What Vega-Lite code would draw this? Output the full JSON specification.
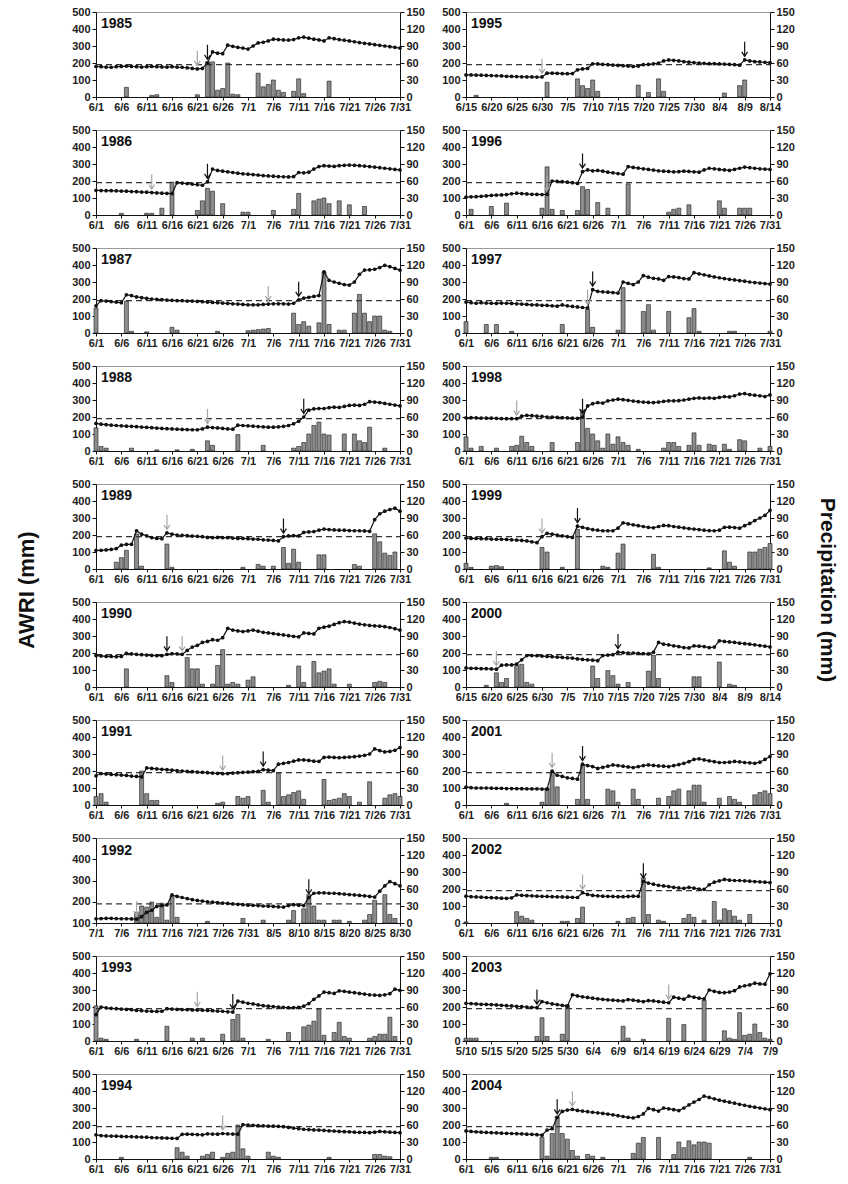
{
"$schema":"https://vega.github.io/schema/vega-lite/v6.json",
"padding":{"left":16,"top":5,"right":2,"bottom":0},
"title":{"text":"AWRI (mm)","orient":"left","anchor":"middle","fontSize":22,"fontWeight":"bold","font":"Liberation Sans","color":"#111","offset":32},
"datasets":{
"y1985":[{"d":0,"a":180},{"d":1,"a":178},{"d":2,"a":176},{"d":3,"a":175},{"d":4,"a":178},{"d":5,"a":180},{"d":6,"a":182,"r":17},{"d":7,"a":180},{"d":8,"a":178},{"d":9,"a":176},{"d":10,"a":178},{"d":11,"a":180,"r":3},{"d":12,"a":178,"r":4},{"d":13,"a":177},{"d":14,"a":176},{"d":15,"a":178},{"d":16,"a":176},{"d":17,"a":175},{"d":18,"a":172},{"d":19,"a":168},{"d":20,"a":165,"r":4,"w":"g"},{"d":21,"a":168},{"d":22,"a":200,"r":62,"w":"b"},{"d":23,"a":265,"r":62},{"d":24,"a":258,"r":12},{"d":25,"a":255,"r":15},{"d":26,"a":305,"r":60},{"d":27,"a":298,"r":5},{"d":28,"a":292,"r":4},{"d":29,"a":288},{"d":30,"a":282},{"d":31,"a":300},{"d":32,"a":318,"r":42},{"d":33,"a":322,"r":18},{"d":34,"a":330,"r":22},{"d":35,"a":340,"r":30},{"d":36,"a":338,"r":12},{"d":37,"a":336,"r":8},{"d":38,"a":335},{"d":39,"a":338,"r":10},{"d":40,"a":348,"r":32},{"d":41,"a":352,"r":6},{"d":42,"a":346},{"d":43,"a":340},{"d":44,"a":336},{"d":45,"a":330},{"d":46,"a":348,"r":28},{"d":47,"a":343},{"d":48,"a":338},{"d":49,"a":334},{"d":50,"a":330},{"d":51,"a":325},{"d":52,"a":320},{"d":53,"a":316},{"d":54,"a":312},{"d":55,"a":308},{"d":56,"a":304},{"d":57,"a":300},{"d":58,"a":296},{"d":59,"a":292},{"d":60,"a":288}],
"y1995":[{"d":0,"a":130},{"d":1,"a":130},{"d":2,"a":129,"r":3},{"d":3,"a":128},{"d":4,"a":127},{"d":5,"a":126},{"d":6,"a":125},{"d":7,"a":124},{"d":8,"a":122},{"d":9,"a":121},{"d":10,"a":120},{"d":11,"a":119},{"d":12,"a":118},{"d":13,"a":118},{"d":14,"a":117},{"d":15,"a":118,"w":"g"},{"d":16,"a":140,"r":26},{"d":17,"a":140},{"d":18,"a":139},{"d":19,"a":138},{"d":20,"a":137},{"d":21,"a":138},{"d":22,"a":160,"r":32},{"d":23,"a":165,"r":20},{"d":24,"a":168,"r":15},{"d":25,"a":195,"r":30},{"d":26,"a":195,"r":10},{"d":27,"a":192},{"d":28,"a":190},{"d":29,"a":188},{"d":30,"a":186},{"d":31,"a":184},{"d":32,"a":182},{"d":33,"a":180},{"d":34,"a":182,"r":21},{"d":35,"a":190},{"d":36,"a":192,"r":8},{"d":37,"a":195},{"d":38,"a":200,"r":32},{"d":39,"a":212,"r":10},{"d":40,"a":218},{"d":41,"a":216},{"d":42,"a":212},{"d":43,"a":208},{"d":44,"a":205},{"d":45,"a":202},{"d":46,"a":200},{"d":47,"a":198},{"d":48,"a":197},{"d":49,"a":196},{"d":50,"a":195},{"d":51,"a":194,"r":7},{"d":52,"a":192},{"d":53,"a":190},{"d":54,"a":187,"r":20},{"d":55,"a":218,"r":30,"w":"b"},{"d":56,"a":212},{"d":57,"a":208},{"d":58,"a":206},{"d":59,"a":204},{"d":60,"a":202}],
"y1986":[{"d":0,"a":145},{"d":1,"a":144},{"d":2,"a":143},{"d":3,"a":143},{"d":4,"a":142},{"d":5,"a":141,"r":3},{"d":6,"a":140},{"d":7,"a":138},{"d":8,"a":137},{"d":9,"a":135},{"d":10,"a":134,"r":3},{"d":11,"a":132,"r":3,"w":"g"},{"d":12,"a":130},{"d":13,"a":128,"r":12},{"d":14,"a":127},{"d":15,"a":126,"r":58},{"d":16,"a":190},{"d":17,"a":188},{"d":18,"a":185},{"d":19,"a":182},{"d":20,"a":178,"r":8},{"d":21,"a":175,"r":25},{"d":22,"a":195,"r":47,"w":"b"},{"d":23,"a":270,"r":42},{"d":24,"a":262},{"d":25,"a":258,"r":20},{"d":26,"a":254},{"d":27,"a":250},{"d":28,"a":246},{"d":29,"a":242,"r":5},{"d":30,"a":240,"r":5},{"d":31,"a":238},{"d":32,"a":235},{"d":33,"a":232},{"d":34,"a":230},{"d":35,"a":228,"r":8},{"d":36,"a":226},{"d":37,"a":225},{"d":38,"a":224},{"d":39,"a":226,"r":10},{"d":40,"a":250,"r":38},{"d":41,"a":248},{"d":42,"a":252},{"d":43,"a":270,"r":25},{"d":44,"a":285,"r":28},{"d":45,"a":290,"r":30},{"d":46,"a":288,"r":20},{"d":47,"a":286},{"d":48,"a":290,"r":25},{"d":49,"a":292},{"d":50,"a":294,"r":18},{"d":51,"a":292},{"d":52,"a":290},{"d":53,"a":288,"r":15},{"d":54,"a":285},{"d":55,"a":282},{"d":56,"a":278},{"d":57,"a":275},{"d":58,"a":272},{"d":59,"a":268},{"d":60,"a":265}],
"y1996":[{"d":0,"a":105},{"d":1,"a":107,"r":10},{"d":2,"a":108},{"d":3,"a":110},{"d":4,"a":112},{"d":5,"a":115,"r":15},{"d":6,"a":117},{"d":7,"a":118},{"d":8,"a":120,"r":21},{"d":9,"a":125},{"d":10,"a":128},{"d":11,"a":126},{"d":12,"a":124},{"d":13,"a":122},{"d":14,"a":121},{"d":15,"a":120,"r":12},{"d":16,"a":122,"r":85,"w":"g"},{"d":17,"a":200,"r":10},{"d":18,"a":198},{"d":19,"a":196,"r":8},{"d":20,"a":193},{"d":21,"a":190},{"d":22,"a":186,"r":8},{"d":23,"a":255,"r":50,"w":"b"},{"d":24,"a":265,"r":45},{"d":25,"a":260},{"d":26,"a":262,"r":22},{"d":27,"a":258},{"d":28,"a":252,"r":12},{"d":29,"a":248},{"d":30,"a":244},{"d":31,"a":240},{"d":32,"a":285,"r":55},{"d":33,"a":280},{"d":34,"a":276},{"d":35,"a":272},{"d":36,"a":268},{"d":37,"a":264},{"d":38,"a":260},{"d":39,"a":258},{"d":40,"a":256,"r":5},{"d":41,"a":254,"r":10},{"d":42,"a":255,"r":12},{"d":43,"a":258},{"d":44,"a":256,"r":18},{"d":45,"a":254},{"d":46,"a":252},{"d":47,"a":265},{"d":48,"a":275},{"d":49,"a":272},{"d":50,"a":268,"r":25},{"d":51,"a":265,"r":12},{"d":52,"a":262},{"d":53,"a":268},{"d":54,"a":275,"r":12},{"d":55,"a":282,"r":12},{"d":56,"a":278,"r":12},{"d":57,"a":275},{"d":58,"a":272},{"d":59,"a":270},{"d":60,"a":268}],
"y1987":[{"d":0,"a":160,"r":44},{"d":1,"a":190},{"d":2,"a":188},{"d":3,"a":185},{"d":4,"a":182},{"d":5,"a":178},{"d":6,"a":225,"r":56},{"d":7,"a":220,"r":3},{"d":8,"a":212},{"d":9,"a":208},{"d":10,"a":204,"r":2},{"d":11,"a":200},{"d":12,"a":198},{"d":13,"a":196},{"d":14,"a":194},{"d":15,"a":192,"r":10},{"d":16,"a":190,"r":5},{"d":17,"a":190},{"d":18,"a":188},{"d":19,"a":188},{"d":20,"a":186},{"d":21,"a":184},{"d":22,"a":182},{"d":23,"a":180},{"d":24,"a":178,"r":3},{"d":25,"a":176},{"d":26,"a":174},{"d":27,"a":172},{"d":28,"a":170},{"d":29,"a":168},{"d":30,"a":166,"r":4},{"d":31,"a":166,"r":5},{"d":32,"a":166,"r":6},{"d":33,"a":168,"r":7},{"d":34,"a":170,"r":8,"w":"g"},{"d":35,"a":172},{"d":36,"a":172},{"d":37,"a":172},{"d":38,"a":170},{"d":39,"a":175,"r":35},{"d":40,"a":195,"r":15,"w":"b"},{"d":41,"a":205,"r":20},{"d":42,"a":210,"r":12},{"d":43,"a":215},{"d":44,"a":220,"r":18},{"d":45,"a":360,"r":108},{"d":46,"a":310,"r":15},{"d":47,"a":300},{"d":48,"a":292,"r":5},{"d":49,"a":285,"r":5},{"d":50,"a":282},{"d":51,"a":300,"r":35},{"d":52,"a":345,"r":68},{"d":53,"a":370,"r":35},{"d":54,"a":372,"r":20},{"d":55,"a":375,"r":30},{"d":56,"a":385,"r":30},{"d":57,"a":398,"r":5},{"d":58,"a":390,"r":3},{"d":59,"a":380},{"d":60,"a":370}],
"y1997":[{"d":0,"a":182,"r":20},{"d":1,"a":178},{"d":2,"a":175},{"d":3,"a":178},{"d":4,"a":176,"r":15},{"d":5,"a":175},{"d":6,"a":174,"r":15},{"d":7,"a":176},{"d":8,"a":175},{"d":9,"a":174,"r":3},{"d":10,"a":172},{"d":11,"a":170},{"d":12,"a":168},{"d":13,"a":166},{"d":14,"a":165},{"d":15,"a":163},{"d":16,"a":162},{"d":17,"a":160},{"d":18,"a":158},{"d":19,"a":165,"r":15},{"d":20,"a":160},{"d":21,"a":156},{"d":22,"a":153},{"d":23,"a":150},{"d":24,"a":148,"r":42,"w":"g"},{"d":25,"a":255,"r":10,"w":"b"},{"d":26,"a":245},{"d":27,"a":242},{"d":28,"a":240},{"d":29,"a":238},{"d":30,"a":235,"r":5},{"d":31,"a":300,"r":80},{"d":32,"a":292},{"d":33,"a":285},{"d":34,"a":300},{"d":35,"a":338,"r":38},{"d":36,"a":328,"r":50},{"d":37,"a":322,"r":5},{"d":38,"a":318},{"d":39,"a":310},{"d":40,"a":332,"r":38},{"d":41,"a":330},{"d":42,"a":326},{"d":43,"a":320},{"d":44,"a":318,"r":27},{"d":45,"a":355,"r":43},{"d":46,"a":348,"r":3},{"d":47,"a":342},{"d":48,"a":336},{"d":49,"a":330},{"d":50,"a":325},{"d":51,"a":320},{"d":52,"a":316,"r":3},{"d":53,"a":312,"r":3},{"d":54,"a":308},{"d":55,"a":305},{"d":56,"a":300},{"d":57,"a":297},{"d":58,"a":294},{"d":59,"a":291},{"d":60,"a":288,"r":3}],
"y1988":[{"d":0,"a":162,"r":41},{"d":1,"a":158,"r":8},{"d":2,"a":155,"r":5},{"d":3,"a":152},{"d":4,"a":150},{"d":5,"a":148},{"d":6,"a":146},{"d":7,"a":145,"r":5},{"d":8,"a":143},{"d":9,"a":141},{"d":10,"a":139},{"d":11,"a":137},{"d":12,"a":135,"r":2},{"d":13,"a":133},{"d":14,"a":131},{"d":15,"a":130},{"d":16,"a":128,"r":2},{"d":17,"a":127},{"d":18,"a":126},{"d":19,"a":125,"r":3},{"d":20,"a":125},{"d":21,"a":130},{"d":22,"a":140,"r":18,"w":"g"},{"d":23,"a":138,"r":10},{"d":24,"a":136},{"d":25,"a":133},{"d":26,"a":130},{"d":27,"a":128},{"d":28,"a":152,"r":29},{"d":29,"a":150},{"d":30,"a":148},{"d":31,"a":146},{"d":32,"a":144},{"d":33,"a":142,"r":10},{"d":34,"a":140},{"d":35,"a":140},{"d":36,"a":142},{"d":37,"a":145},{"d":38,"a":150},{"d":39,"a":160,"r":5},{"d":40,"a":175,"r":8},{"d":41,"a":200,"r":15,"w":"b"},{"d":42,"a":240,"r":30},{"d":43,"a":248,"r":45},{"d":44,"a":250,"r":51},{"d":45,"a":250,"r":30},{"d":46,"a":255,"r":28},{"d":47,"a":258},{"d":48,"a":256},{"d":49,"a":262,"r":30},{"d":50,"a":268},{"d":51,"a":270,"r":30},{"d":52,"a":268,"r":18},{"d":53,"a":275,"r":15},{"d":54,"a":290,"r":42},{"d":55,"a":288},{"d":56,"a":285},{"d":57,"a":280,"r":5},{"d":58,"a":275},{"d":59,"a":270},{"d":60,"a":265}],
"y1998":[{"d":0,"a":195,"r":25},{"d":1,"a":196,"r":5},{"d":2,"a":195},{"d":3,"a":194,"r":8},{"d":4,"a":193},{"d":5,"a":193},{"d":6,"a":192,"r":5},{"d":7,"a":191},{"d":8,"a":190},{"d":9,"a":190,"r":8},{"d":10,"a":190,"r":10,"w":"g"},{"d":11,"a":205,"r":26},{"d":12,"a":210,"r":15},{"d":13,"a":208,"r":8},{"d":14,"a":205},{"d":15,"a":203},{"d":16,"a":200},{"d":17,"a":199,"r":15},{"d":18,"a":198},{"d":19,"a":196},{"d":20,"a":195},{"d":21,"a":193},{"d":22,"a":192,"r":15},{"d":23,"a":200,"r":72,"w":"b"},{"d":24,"a":265,"r":40},{"d":25,"a":278,"r":30},{"d":26,"a":285,"r":18},{"d":27,"a":282,"r":5},{"d":28,"a":295,"r":30},{"d":29,"a":300,"r":12},{"d":30,"a":305,"r":25},{"d":31,"a":302,"r":15},{"d":32,"a":298,"r":10},{"d":33,"a":294},{"d":34,"a":290,"r":3},{"d":35,"a":288},{"d":36,"a":286},{"d":37,"a":285},{"d":38,"a":288},{"d":39,"a":292,"r":5},{"d":40,"a":295,"r":15},{"d":41,"a":295,"r":15},{"d":42,"a":296,"r":8},{"d":43,"a":300},{"d":44,"a":305,"r":10},{"d":45,"a":310,"r":32},{"d":46,"a":312,"r":10},{"d":47,"a":310},{"d":48,"a":312,"r":12},{"d":49,"a":310,"r":10},{"d":50,"a":315},{"d":51,"a":320,"r":12},{"d":52,"a":318,"r":3},{"d":53,"a":325},{"d":54,"a":335,"r":20},{"d":55,"a":338,"r":18},{"d":56,"a":332},{"d":57,"a":328},{"d":58,"a":325,"r":5},{"d":59,"a":320},{"d":60,"a":330,"r":8}],
"y1989":[{"d":0,"a":110},{"d":1,"a":110},{"d":2,"a":112},{"d":3,"a":115},{"d":4,"a":120,"r":12},{"d":5,"a":140,"r":20},{"d":6,"a":145,"r":33},{"d":7,"a":145},{"d":8,"a":225,"r":62},{"d":9,"a":205,"r":5},{"d":10,"a":195},{"d":11,"a":185},{"d":12,"a":180},{"d":13,"a":178},{"d":14,"a":212,"r":44,"w":"g"},{"d":15,"a":205,"r":3},{"d":16,"a":200},{"d":17,"a":198},{"d":18,"a":196},{"d":19,"a":194},{"d":20,"a":192},{"d":21,"a":190},{"d":22,"a":186},{"d":23,"a":184},{"d":24,"a":186},{"d":25,"a":185},{"d":26,"a":184},{"d":27,"a":182},{"d":28,"a":180},{"d":29,"a":180,"r":3},{"d":30,"a":178},{"d":31,"a":176},{"d":32,"a":175,"r":8},{"d":33,"a":172,"r":5},{"d":34,"a":170},{"d":35,"a":168,"r":5},{"d":36,"a":165},{"d":37,"a":190,"r":38,"w":"b"},{"d":38,"a":195,"r":10},{"d":39,"a":196,"r":35},{"d":40,"a":195,"r":12},{"d":41,"a":215},{"d":42,"a":218},{"d":43,"a":220},{"d":44,"a":228,"r":25},{"d":45,"a":235,"r":25},{"d":46,"a":232},{"d":47,"a":230},{"d":48,"a":228},{"d":49,"a":228},{"d":50,"a":226},{"d":51,"a":225,"r":8},{"d":52,"a":225,"r":5},{"d":53,"a":224},{"d":54,"a":222},{"d":55,"a":290,"r":62},{"d":56,"a":325,"r":48},{"d":57,"a":340,"r":28},{"d":58,"a":350,"r":24},{"d":59,"a":358,"r":30},{"d":60,"a":340}],
"y1999":[{"d":0,"a":182,"r":10},{"d":1,"a":180,"r":3},{"d":2,"a":180},{"d":3,"a":178},{"d":4,"a":178},{"d":5,"a":176,"r":5},{"d":6,"a":175,"r":6},{"d":7,"a":175,"r":4},{"d":8,"a":174},{"d":9,"a":172},{"d":10,"a":170},{"d":11,"a":168},{"d":12,"a":165},{"d":13,"a":160},{"d":14,"a":155},{"d":15,"a":190,"r":38,"w":"g"},{"d":16,"a":210,"r":30},{"d":17,"a":205},{"d":18,"a":200},{"d":19,"a":195,"r":3},{"d":20,"a":190},{"d":21,"a":186},{"d":22,"a":252,"r":70,"w":"b"},{"d":23,"a":245},{"d":24,"a":238},{"d":25,"a":232},{"d":26,"a":228},{"d":27,"a":225,"r":5},{"d":28,"a":225,"r":3},{"d":29,"a":225},{"d":30,"a":240,"r":28},{"d":31,"a":272,"r":44},{"d":32,"a":265},{"d":33,"a":260},{"d":34,"a":255},{"d":35,"a":250},{"d":36,"a":245},{"d":37,"a":242,"r":26},{"d":38,"a":250,"r":3},{"d":39,"a":256},{"d":40,"a":255},{"d":41,"a":250},{"d":42,"a":246},{"d":43,"a":242},{"d":44,"a":238},{"d":45,"a":235},{"d":46,"a":232},{"d":47,"a":228},{"d":48,"a":226,"r":2},{"d":49,"a":225},{"d":50,"a":228},{"d":51,"a":245,"r":32},{"d":52,"a":246,"r":12},{"d":53,"a":244,"r":5},{"d":54,"a":240},{"d":55,"a":255},{"d":56,"a":268,"r":30},{"d":57,"a":285,"r":30},{"d":58,"a":300,"r":35},{"d":59,"a":315,"r":38},{"d":60,"a":345,"r":45}],
"y1990":[{"d":0,"a":185},{"d":1,"a":183},{"d":2,"a":180},{"d":3,"a":180},{"d":4,"a":178},{"d":5,"a":180},{"d":6,"a":198,"r":32},{"d":7,"a":195},{"d":8,"a":192},{"d":9,"a":190},{"d":10,"a":188},{"d":11,"a":186},{"d":12,"a":184},{"d":13,"a":184},{"d":14,"a":192,"r":20,"w":"b"},{"d":15,"a":196,"r":8},{"d":16,"a":195},{"d":17,"a":192,"w":"g"},{"d":18,"a":215,"r":52},{"d":19,"a":235,"r":32},{"d":20,"a":245,"r":32},{"d":21,"a":262,"r":5},{"d":22,"a":268},{"d":23,"a":278,"r":5},{"d":24,"a":275,"r":38},{"d":25,"a":290,"r":66},{"d":26,"a":345,"r":5},{"d":27,"a":335,"r":8},{"d":28,"a":330,"r":5},{"d":29,"a":326},{"d":30,"a":330,"r":12},{"d":31,"a":335,"r":18},{"d":32,"a":328},{"d":33,"a":322},{"d":34,"a":318},{"d":35,"a":314},{"d":36,"a":310},{"d":37,"a":306},{"d":38,"a":302,"r":3},{"d":39,"a":298},{"d":40,"a":295,"r":37},{"d":41,"a":318,"r":8},{"d":42,"a":315},{"d":43,"a":312,"r":45},{"d":44,"a":345,"r":25},{"d":45,"a":352,"r":28},{"d":46,"a":358,"r":32},{"d":47,"a":368,"r":5},{"d":48,"a":378},{"d":49,"a":385},{"d":50,"a":382,"r":5},{"d":51,"a":376},{"d":52,"a":370},{"d":53,"a":366},{"d":54,"a":362},{"d":55,"a":360,"r":8},{"d":56,"a":358,"r":10},{"d":57,"a":355,"r":8},{"d":58,"a":350},{"d":59,"a":343},{"d":60,"a":335}],
"y2000":[{"d":0,"a":112},{"d":1,"a":110},{"d":2,"a":110},{"d":3,"a":108},{"d":4,"a":108,"r":3},{"d":5,"a":106},{"d":6,"a":105,"r":25,"w":"g"},{"d":7,"a":128,"r":8},{"d":8,"a":130,"r":15},{"d":9,"a":130},{"d":10,"a":135,"r":38},{"d":11,"a":160,"r":40},{"d":12,"a":185,"r":8},{"d":13,"a":185,"r":5},{"d":14,"a":184},{"d":15,"a":182},{"d":16,"a":180},{"d":17,"a":178},{"d":18,"a":176},{"d":19,"a":174},{"d":20,"a":172},{"d":21,"a":170},{"d":22,"a":165},{"d":23,"a":162},{"d":24,"a":160},{"d":25,"a":158,"r":37},{"d":26,"a":155,"r":15},{"d":27,"a":185},{"d":28,"a":188,"r":29},{"d":29,"a":190,"r":20},{"d":30,"a":205,"r":5,"w":"b"},{"d":31,"a":202},{"d":32,"a":200,"r":8},{"d":33,"a":200},{"d":34,"a":198},{"d":35,"a":196},{"d":36,"a":195,"r":28},{"d":37,"a":205,"r":56},{"d":38,"a":262,"r":15},{"d":39,"a":252},{"d":40,"a":248},{"d":41,"a":242},{"d":42,"a":238},{"d":43,"a":232},{"d":44,"a":230},{"d":45,"a":242,"r":18},{"d":46,"a":240,"r":18},{"d":47,"a":238},{"d":48,"a":232},{"d":49,"a":235},{"d":50,"a":272,"r":44},{"d":51,"a":268},{"d":52,"a":265,"r":5},{"d":53,"a":262,"r":3},{"d":54,"a":258},{"d":55,"a":255},{"d":56,"a":252},{"d":57,"a":248},{"d":58,"a":244},{"d":59,"a":240},{"d":60,"a":236}],
"y1991":[{"d":0,"a":172,"r":15},{"d":1,"a":185,"r":20},{"d":2,"a":183,"r":5},{"d":3,"a":180},{"d":4,"a":178},{"d":5,"a":176},{"d":6,"a":174},{"d":7,"a":170},{"d":8,"a":168},{"d":9,"a":165,"r":60},{"d":10,"a":218,"r":20},{"d":11,"a":215,"r":8},{"d":12,"a":212,"r":8},{"d":13,"a":210},{"d":14,"a":208},{"d":15,"a":205},{"d":16,"a":202},{"d":17,"a":200},{"d":18,"a":198},{"d":19,"a":196},{"d":20,"a":194},{"d":21,"a":192},{"d":22,"a":190},{"d":23,"a":188},{"d":24,"a":186,"r":3},{"d":25,"a":184,"r":5,"w":"g"},{"d":26,"a":185},{"d":27,"a":188},{"d":28,"a":190,"r":15},{"d":29,"a":192,"r":12},{"d":30,"a":194,"r":15},{"d":31,"a":196},{"d":32,"a":198},{"d":33,"a":208,"r":26,"w":"b"},{"d":34,"a":205,"r":5},{"d":35,"a":202},{"d":36,"a":240,"r":56},{"d":37,"a":245,"r":15},{"d":38,"a":250,"r":18},{"d":39,"a":258,"r":22},{"d":40,"a":265,"r":25},{"d":41,"a":265,"r":10},{"d":42,"a":262},{"d":43,"a":258},{"d":44,"a":256},{"d":45,"a":280,"r":45},{"d":46,"a":282,"r":8},{"d":47,"a":280,"r":10},{"d":48,"a":278,"r":12},{"d":49,"a":280,"r":20},{"d":50,"a":282,"r":15},{"d":51,"a":284},{"d":52,"a":288,"r":5},{"d":53,"a":292},{"d":54,"a":300,"r":41},{"d":55,"a":330},{"d":56,"a":320},{"d":57,"a":312,"r":12},{"d":58,"a":315,"r":18},{"d":59,"a":322,"r":20},{"d":60,"a":338,"r":15}],
"y2001":[{"d":0,"a":105},{"d":1,"a":102},{"d":2,"a":100},{"d":3,"a":100},{"d":4,"a":100},{"d":5,"a":99},{"d":6,"a":98},{"d":7,"a":98},{"d":8,"a":97,"r":3},{"d":9,"a":97},{"d":10,"a":96},{"d":11,"a":96},{"d":12,"a":95},{"d":13,"a":95},{"d":14,"a":95},{"d":15,"a":94,"r":5},{"d":16,"a":93,"r":30},{"d":17,"a":200,"r":59,"w":"g"},{"d":18,"a":175,"r":32},{"d":19,"a":168},{"d":20,"a":160},{"d":21,"a":156},{"d":22,"a":152,"r":10},{"d":23,"a":240,"r":70,"w":"b"},{"d":24,"a":232,"r":10},{"d":25,"a":226},{"d":26,"a":215},{"d":27,"a":222},{"d":28,"a":228,"r":28},{"d":29,"a":236,"r":25},{"d":30,"a":232,"r":5},{"d":31,"a":228},{"d":32,"a":224},{"d":33,"a":220,"r":28},{"d":34,"a":226,"r":10},{"d":35,"a":232},{"d":36,"a":236},{"d":37,"a":233},{"d":38,"a":230,"r":12},{"d":39,"a":228},{"d":40,"a":226,"r":15},{"d":41,"a":232,"r":25},{"d":42,"a":238,"r":28},{"d":43,"a":245},{"d":44,"a":255,"r":25},{"d":45,"a":268,"r":35},{"d":46,"a":272,"r":35},{"d":47,"a":265,"r":5},{"d":48,"a":260},{"d":49,"a":255},{"d":50,"a":250,"r":12},{"d":51,"a":250},{"d":52,"a":252,"r":15},{"d":53,"a":256,"r":10},{"d":54,"a":254,"r":5},{"d":55,"a":250},{"d":56,"a":248},{"d":57,"a":245,"r":18},{"d":58,"a":252,"r":22},{"d":59,"a":268,"r":25},{"d":60,"a":285,"r":20}],
"y1992":[{"d":0,"a":120},{"d":1,"a":121},{"d":2,"a":122},{"d":3,"a":122},{"d":4,"a":121},{"d":5,"a":120},{"d":6,"a":120},{"d":7,"a":119},{"d":8,"a":118,"r":19,"w":"g"},{"d":9,"a":130,"r":30},{"d":10,"a":150,"r":28},{"d":11,"a":160,"r":37},{"d":12,"a":178,"r":10},{"d":13,"a":182,"r":35},{"d":14,"a":185,"r":5},{"d":15,"a":232,"r":48},{"d":16,"a":225,"r":10},{"d":17,"a":220},{"d":18,"a":215},{"d":19,"a":210},{"d":20,"a":206},{"d":21,"a":203},{"d":22,"a":200,"r":3},{"d":23,"a":198},{"d":24,"a":196},{"d":25,"a":194},{"d":26,"a":192},{"d":27,"a":190},{"d":28,"a":188},{"d":29,"a":186,"r":8},{"d":30,"a":184},{"d":31,"a":183},{"d":32,"a":182},{"d":33,"a":180,"r":5},{"d":34,"a":179},{"d":35,"a":178},{"d":36,"a":176},{"d":37,"a":175},{"d":38,"a":182,"r":5},{"d":39,"a":186,"r":22},{"d":40,"a":184},{"d":41,"a":182,"r":25},{"d":42,"a":220,"r":50,"w":"b"},{"d":43,"a":240,"r":30},{"d":44,"a":242,"r":5},{"d":45,"a":242,"r":5},{"d":46,"a":240},{"d":47,"a":240,"r":5},{"d":48,"a":238,"r":5},{"d":49,"a":236},{"d":50,"a":234,"r":3},{"d":51,"a":232},{"d":52,"a":230},{"d":53,"a":228,"r":5},{"d":54,"a":225,"r":15},{"d":55,"a":222,"r":40},{"d":56,"a":250},{"d":57,"a":275,"r":50},{"d":58,"a":295,"r":15},{"d":59,"a":285,"r":8},{"d":60,"a":275}],
"y2002":[{"d":0,"a":158,"r":2},{"d":1,"a":155},{"d":2,"a":153},{"d":3,"a":152},{"d":4,"a":150},{"d":5,"a":149},{"d":6,"a":148},{"d":7,"a":146},{"d":8,"a":145},{"d":9,"a":148},{"d":10,"a":165,"r":20},{"d":11,"a":163,"r":12},{"d":12,"a":161,"r":8},{"d":13,"a":160,"r":5},{"d":14,"a":158},{"d":15,"a":157},{"d":16,"a":156},{"d":17,"a":155},{"d":18,"a":154},{"d":19,"a":153,"r":3},{"d":20,"a":152,"r":3},{"d":21,"a":151},{"d":22,"a":150,"r":8},{"d":23,"a":178,"r":28,"w":"g"},{"d":24,"a":168},{"d":25,"a":162},{"d":26,"a":160},{"d":27,"a":158},{"d":28,"a":157},{"d":29,"a":156},{"d":30,"a":155,"r":3},{"d":31,"a":155},{"d":32,"a":156,"r":8},{"d":33,"a":158,"r":10},{"d":34,"a":157},{"d":35,"a":245,"r":80,"w":"b"},{"d":36,"a":235,"r":15},{"d":37,"a":228},{"d":38,"a":222,"r":5},{"d":39,"a":218,"r":3},{"d":40,"a":214},{"d":41,"a":210},{"d":42,"a":206},{"d":43,"a":204,"r":8},{"d":44,"a":210,"r":15},{"d":45,"a":205,"r":10},{"d":46,"a":200},{"d":47,"a":198,"r":5},{"d":48,"a":225},{"d":49,"a":240,"r":38},{"d":50,"a":248,"r":5},{"d":51,"a":256,"r":25},{"d":52,"a":252,"r":22},{"d":53,"a":250,"r":12},{"d":54,"a":250,"r":5},{"d":55,"a":248},{"d":56,"a":246,"r":15},{"d":57,"a":244},{"d":58,"a":242},{"d":59,"a":240},{"d":60,"a":238}],
"y1993":[{"d":0,"a":155,"r":62},{"d":1,"a":200,"r":5},{"d":2,"a":195,"r":3},{"d":3,"a":192},{"d":4,"a":190},{"d":5,"a":188},{"d":6,"a":186},{"d":7,"a":184},{"d":8,"a":180,"r":3},{"d":9,"a":178},{"d":10,"a":176},{"d":11,"a":175},{"d":12,"a":174},{"d":13,"a":175},{"d":14,"a":190,"r":26},{"d":15,"a":188},{"d":16,"a":186},{"d":17,"a":185},{"d":18,"a":184},{"d":19,"a":183,"r":5},{"d":20,"a":182,"w":"g"},{"d":21,"a":181,"r":5},{"d":22,"a":180},{"d":23,"a":178},{"d":24,"a":176},{"d":25,"a":175,"r":12},{"d":26,"a":172},{"d":27,"a":170,"r":38,"w":"b"},{"d":28,"a":235,"r":47},{"d":29,"a":228,"r":5},{"d":30,"a":222},{"d":31,"a":218},{"d":32,"a":212},{"d":33,"a":208},{"d":34,"a":205,"r":3},{"d":35,"a":202},{"d":36,"a":200},{"d":37,"a":198},{"d":38,"a":197,"r":15},{"d":39,"a":196},{"d":40,"a":198},{"d":41,"a":205,"r":25},{"d":42,"a":220,"r":28},{"d":43,"a":245,"r":35},{"d":44,"a":265,"r":56},{"d":45,"a":288,"r":10},{"d":46,"a":284},{"d":47,"a":280,"r":15},{"d":48,"a":295,"r":33},{"d":49,"a":292,"r":8},{"d":50,"a":288,"r":5},{"d":51,"a":284},{"d":52,"a":280},{"d":53,"a":276},{"d":54,"a":272,"r":5},{"d":55,"a":270,"r":8},{"d":56,"a":268,"r":12},{"d":57,"a":272,"r":12},{"d":58,"a":278,"r":42},{"d":59,"a":305,"r":8},{"d":60,"a":298}],
"y2003":[{"d":0,"a":222,"r":5},{"d":1,"a":220,"r":5},{"d":2,"a":218,"r":5},{"d":3,"a":216},{"d":4,"a":215},{"d":5,"a":214},{"d":6,"a":212},{"d":7,"a":210},{"d":8,"a":208},{"d":9,"a":206},{"d":10,"a":204},{"d":11,"a":202},{"d":12,"a":200},{"d":13,"a":198},{"d":14,"a":196,"r":8,"w":"b"},{"d":15,"a":232,"r":41},{"d":16,"a":225,"r":8},{"d":17,"a":218},{"d":18,"a":214},{"d":19,"a":210,"r":12},{"d":20,"a":205,"r":64},{"d":21,"a":272},{"d":22,"a":265},{"d":23,"a":260},{"d":24,"a":256},{"d":25,"a":252},{"d":26,"a":248},{"d":27,"a":245},{"d":28,"a":242},{"d":29,"a":240},{"d":30,"a":238},{"d":31,"a":236,"r":26},{"d":32,"a":244,"r":5},{"d":33,"a":240},{"d":34,"a":236},{"d":35,"a":232,"r":3},{"d":36,"a":238},{"d":37,"a":236},{"d":38,"a":232},{"d":39,"a":228},{"d":40,"a":225,"r":40,"w":"g"},{"d":41,"a":258},{"d":42,"a":252},{"d":43,"a":246,"r":29},{"d":44,"a":264},{"d":45,"a":258},{"d":46,"a":252},{"d":47,"a":248,"r":72},{"d":48,"a":300},{"d":49,"a":292},{"d":50,"a":286},{"d":51,"a":284,"r":18},{"d":52,"a":288,"r":5},{"d":53,"a":296,"r":3},{"d":54,"a":318,"r":50},{"d":55,"a":325,"r":10},{"d":56,"a":330,"r":12},{"d":57,"a":340,"r":30},{"d":58,"a":336,"r":15},{"d":59,"a":334,"r":5},{"d":60,"a":395,"r":3}],
"y1994":[{"d":0,"a":142},{"d":1,"a":138},{"d":2,"a":136},{"d":3,"a":135},{"d":4,"a":134},{"d":5,"a":133,"r":3},{"d":6,"a":132},{"d":7,"a":131},{"d":8,"a":130},{"d":9,"a":129},{"d":10,"a":128},{"d":11,"a":126},{"d":12,"a":125},{"d":13,"a":124},{"d":14,"a":123},{"d":15,"a":122},{"d":16,"a":121,"r":20},{"d":17,"a":145,"r":12},{"d":18,"a":146,"r":5},{"d":19,"a":145},{"d":20,"a":144},{"d":21,"a":142,"r":5},{"d":22,"a":148,"r":8},{"d":23,"a":147,"r":12},{"d":24,"a":146},{"d":25,"a":150,"r":3,"w":"g"},{"d":26,"a":148,"r":10},{"d":27,"a":147,"r":12},{"d":28,"a":146,"r":60},{"d":29,"a":202,"r":18},{"d":30,"a":200,"r":5},{"d":31,"a":198},{"d":32,"a":196},{"d":33,"a":195},{"d":34,"a":194,"r":12},{"d":35,"a":193,"r":5},{"d":36,"a":192,"r":3},{"d":37,"a":190},{"d":38,"a":186},{"d":39,"a":182},{"d":40,"a":178},{"d":41,"a":175},{"d":42,"a":173},{"d":43,"a":171},{"d":44,"a":170},{"d":45,"a":168},{"d":46,"a":166,"r":3},{"d":47,"a":164},{"d":48,"a":162},{"d":49,"a":161},{"d":50,"a":160},{"d":51,"a":158},{"d":52,"a":157},{"d":53,"a":156},{"d":54,"a":155},{"d":55,"a":158,"r":8},{"d":56,"a":162,"r":8},{"d":57,"a":160,"r":5},{"d":58,"a":158,"r":4},{"d":59,"a":156},{"d":60,"a":155}],
"y2004":[{"d":0,"a":165},{"d":1,"a":162},{"d":2,"a":160},{"d":3,"a":158},{"d":4,"a":156},{"d":5,"a":155,"r":3},{"d":6,"a":154,"r":3},{"d":7,"a":152},{"d":8,"a":151},{"d":9,"a":150},{"d":10,"a":149},{"d":11,"a":148},{"d":12,"a":146},{"d":13,"a":145},{"d":14,"a":143},{"d":15,"a":140,"r":38},{"d":16,"a":170,"r":5},{"d":17,"a":178,"r":45},{"d":18,"a":245,"r":75,"w":"b"},{"d":19,"a":280,"r":45},{"d":20,"a":288,"r":35},{"d":21,"a":292,"r":15,"w":"g"},{"d":22,"a":286,"r":5},{"d":23,"a":282},{"d":24,"a":278,"r":8},{"d":25,"a":275,"r":5},{"d":26,"a":272},{"d":27,"a":268,"r":3},{"d":28,"a":264},{"d":29,"a":260},{"d":30,"a":255},{"d":31,"a":250},{"d":32,"a":245},{"d":33,"a":242,"r":10},{"d":34,"a":250,"r":28},{"d":35,"a":265,"r":38},{"d":36,"a":298},{"d":37,"a":290},{"d":38,"a":282,"r":38},{"d":39,"a":300},{"d":40,"a":295},{"d":41,"a":290,"r":8},{"d":42,"a":285,"r":30},{"d":43,"a":300,"r":20},{"d":44,"a":318,"r":32},{"d":45,"a":335,"r":25},{"d":46,"a":350,"r":30},{"d":47,"a":370,"r":30},{"d":48,"a":362,"r":28},{"d":49,"a":354},{"d":50,"a":346},{"d":51,"a":340},{"d":52,"a":334},{"d":53,"a":328},{"d":54,"a":322},{"d":55,"a":316},{"d":56,"a":310,"r":3},{"d":57,"a":305},{"d":58,"a":300},{"d":59,"a":295},{"d":60,"a":290}]
},
"vconcat":[{
"title":{"text":"Precipitation (mm)","orient":"right","anchor":"middle","fontSize":21,"fontWeight":"bold","font":"Liberation Sans","color":"#111","offset":22},
"columns":2,
"spacing":{"row":10,"column":16},
"concat":[
{"data":{"name":"y1985"},"encoding":{"x":{"field":"d","type":"quantitative","title":null,"scale":{"domain":[0,60],"nice":false,"padding":0},"axis":{"labelExpr":"timeFormat(datetime(2001,5,1+datum.value),'%-m/%-d')"}}},"layer":[{"mark":"bar","encoding":{"y":{"field":"r","type":"quantitative","title":null,"scale":{"domain":[0,150]},"axis":{"orient":"right","values":[0,30,60,90,120,150]}}}},{"encoding":{"y":{"field":"a","type":"quantitative","title":null,"scale":{"domain":[0,500]},"axis":{"orient":"left"}}},"layer":[{"transform":[{"filter":"datum.d==0"}],"mark":"rule","encoding":{"x2":{"datum":60},"y":{"datum":190}}},{"mark":{"type":"line","point":{"filled":true,"size":14}}},{"transform":[{"filter":"datum.d==0"}],"mark":{"type":"text","style":"yr","text":"1985"},"encoding":{"y":{"datum":430}}},{"transform":[{"filter":"datum.w"}],"mark":{"type":"point","style":"arw","filled":false},"encoding":{"color":{"field":"w","type":"nominal","scale":{"domain":["b","g"],"range":["#111111","#a8a8a8"]},"legend":null}}}]}],"resolve":{"scale":{"y":"independent"}}},
{"data":{"name":"y1995"},"encoding":{"x":{"field":"d","type":"quantitative","title":null,"scale":{"domain":[0,60],"nice":false,"padding":0},"axis":{"labelExpr":"timeFormat(datetime(2001,5,15+datum.value),'%-m/%-d')"}}},"layer":[{"mark":"bar","encoding":{"y":{"field":"r","type":"quantitative","title":null,"scale":{"domain":[0,150]},"axis":{"orient":"right","values":[0,30,60,90,120,150]}}}},{"encoding":{"y":{"field":"a","type":"quantitative","title":null,"scale":{"domain":[0,500]},"axis":{"orient":"left"}}},"layer":[{"transform":[{"filter":"datum.d==0"}],"mark":"rule","encoding":{"x2":{"datum":60},"y":{"datum":190}}},{"mark":{"type":"line","point":{"filled":true,"size":14}}},{"transform":[{"filter":"datum.d==0"}],"mark":{"type":"text","style":"yr","text":"1995"},"encoding":{"y":{"datum":430}}},{"transform":[{"filter":"datum.w"}],"mark":{"type":"point","style":"arw","filled":false},"encoding":{"color":{"field":"w","type":"nominal","scale":{"domain":["b","g"],"range":["#111111","#a8a8a8"]},"legend":null}}}]}],"resolve":{"scale":{"y":"independent"}}},
{"data":{"name":"y1986"},"encoding":{"x":{"field":"d","type":"quantitative","title":null,"scale":{"domain":[0,60],"nice":false,"padding":0},"axis":{"labelExpr":"timeFormat(datetime(2001,5,1+datum.value),'%-m/%-d')"}}},"layer":[{"mark":"bar","encoding":{"y":{"field":"r","type":"quantitative","title":null,"scale":{"domain":[0,150]},"axis":{"orient":"right","values":[0,30,60,90,120,150]}}}},{"encoding":{"y":{"field":"a","type":"quantitative","title":null,"scale":{"domain":[0,500]},"axis":{"orient":"left"}}},"layer":[{"transform":[{"filter":"datum.d==0"}],"mark":"rule","encoding":{"x2":{"datum":60},"y":{"datum":190}}},{"mark":{"type":"line","point":{"filled":true,"size":14}}},{"transform":[{"filter":"datum.d==0"}],"mark":{"type":"text","style":"yr","text":"1986"},"encoding":{"y":{"datum":430}}},{"transform":[{"filter":"datum.w"}],"mark":{"type":"point","style":"arw","filled":false},"encoding":{"color":{"field":"w","type":"nominal","scale":{"domain":["b","g"],"range":["#111111","#a8a8a8"]},"legend":null}}}]}],"resolve":{"scale":{"y":"independent"}}},
{"data":{"name":"y1996"},"encoding":{"x":{"field":"d","type":"quantitative","title":null,"scale":{"domain":[0,60],"nice":false,"padding":0},"axis":{"labelExpr":"timeFormat(datetime(2001,5,1+datum.value),'%-m/%-d')"}}},"layer":[{"mark":"bar","encoding":{"y":{"field":"r","type":"quantitative","title":null,"scale":{"domain":[0,150]},"axis":{"orient":"right","values":[0,30,60,90,120,150]}}}},{"encoding":{"y":{"field":"a","type":"quantitative","title":null,"scale":{"domain":[0,500]},"axis":{"orient":"left"}}},"layer":[{"transform":[{"filter":"datum.d==0"}],"mark":"rule","encoding":{"x2":{"datum":60},"y":{"datum":190}}},{"mark":{"type":"line","point":{"filled":true,"size":14}}},{"transform":[{"filter":"datum.d==0"}],"mark":{"type":"text","style":"yr","text":"1996"},"encoding":{"y":{"datum":430}}},{"transform":[{"filter":"datum.w"}],"mark":{"type":"point","style":"arw","filled":false},"encoding":{"color":{"field":"w","type":"nominal","scale":{"domain":["b","g"],"range":["#111111","#a8a8a8"]},"legend":null}}}]}],"resolve":{"scale":{"y":"independent"}}},
{"data":{"name":"y1987"},"encoding":{"x":{"field":"d","type":"quantitative","title":null,"scale":{"domain":[0,60],"nice":false,"padding":0},"axis":{"labelExpr":"timeFormat(datetime(2001,5,1+datum.value),'%-m/%-d')"}}},"layer":[{"mark":"bar","encoding":{"y":{"field":"r","type":"quantitative","title":null,"scale":{"domain":[0,150]},"axis":{"orient":"right","values":[0,30,60,90,120,150]}}}},{"encoding":{"y":{"field":"a","type":"quantitative","title":null,"scale":{"domain":[0,500]},"axis":{"orient":"left"}}},"layer":[{"transform":[{"filter":"datum.d==0"}],"mark":"rule","encoding":{"x2":{"datum":60},"y":{"datum":190}}},{"mark":{"type":"line","point":{"filled":true,"size":14}}},{"transform":[{"filter":"datum.d==0"}],"mark":{"type":"text","style":"yr","text":"1987"},"encoding":{"y":{"datum":430}}},{"transform":[{"filter":"datum.w"}],"mark":{"type":"point","style":"arw","filled":false},"encoding":{"color":{"field":"w","type":"nominal","scale":{"domain":["b","g"],"range":["#111111","#a8a8a8"]},"legend":null}}}]}],"resolve":{"scale":{"y":"independent"}}},
{"data":{"name":"y1997"},"encoding":{"x":{"field":"d","type":"quantitative","title":null,"scale":{"domain":[0,60],"nice":false,"padding":0},"axis":{"labelExpr":"timeFormat(datetime(2001,5,1+datum.value),'%-m/%-d')"}}},"layer":[{"mark":"bar","encoding":{"y":{"field":"r","type":"quantitative","title":null,"scale":{"domain":[0,150]},"axis":{"orient":"right","values":[0,30,60,90,120,150]}}}},{"encoding":{"y":{"field":"a","type":"quantitative","title":null,"scale":{"domain":[0,500]},"axis":{"orient":"left"}}},"layer":[{"transform":[{"filter":"datum.d==0"}],"mark":"rule","encoding":{"x2":{"datum":60},"y":{"datum":190}}},{"mark":{"type":"line","point":{"filled":true,"size":14}}},{"transform":[{"filter":"datum.d==0"}],"mark":{"type":"text","style":"yr","text":"1997"},"encoding":{"y":{"datum":430}}},{"transform":[{"filter":"datum.w"}],"mark":{"type":"point","style":"arw","filled":false},"encoding":{"color":{"field":"w","type":"nominal","scale":{"domain":["b","g"],"range":["#111111","#a8a8a8"]},"legend":null}}}]}],"resolve":{"scale":{"y":"independent"}}},
{"data":{"name":"y1988"},"encoding":{"x":{"field":"d","type":"quantitative","title":null,"scale":{"domain":[0,60],"nice":false,"padding":0},"axis":{"labelExpr":"timeFormat(datetime(2001,5,1+datum.value),'%-m/%-d')"}}},"layer":[{"mark":"bar","encoding":{"y":{"field":"r","type":"quantitative","title":null,"scale":{"domain":[0,150]},"axis":{"orient":"right","values":[0,30,60,90,120,150]}}}},{"encoding":{"y":{"field":"a","type":"quantitative","title":null,"scale":{"domain":[0,500]},"axis":{"orient":"left"}}},"layer":[{"transform":[{"filter":"datum.d==0"}],"mark":"rule","encoding":{"x2":{"datum":60},"y":{"datum":190}}},{"mark":{"type":"line","point":{"filled":true,"size":14}}},{"transform":[{"filter":"datum.d==0"}],"mark":{"type":"text","style":"yr","text":"1988"},"encoding":{"y":{"datum":430}}},{"transform":[{"filter":"datum.w"}],"mark":{"type":"point","style":"arw","filled":false},"encoding":{"color":{"field":"w","type":"nominal","scale":{"domain":["b","g"],"range":["#111111","#a8a8a8"]},"legend":null}}}]}],"resolve":{"scale":{"y":"independent"}}},
{"data":{"name":"y1998"},"encoding":{"x":{"field":"d","type":"quantitative","title":null,"scale":{"domain":[0,60],"nice":false,"padding":0},"axis":{"labelExpr":"timeFormat(datetime(2001,5,1+datum.value),'%-m/%-d')"}}},"layer":[{"mark":"bar","encoding":{"y":{"field":"r","type":"quantitative","title":null,"scale":{"domain":[0,150]},"axis":{"orient":"right","values":[0,30,60,90,120,150]}}}},{"encoding":{"y":{"field":"a","type":"quantitative","title":null,"scale":{"domain":[0,500]},"axis":{"orient":"left"}}},"layer":[{"transform":[{"filter":"datum.d==0"}],"mark":"rule","encoding":{"x2":{"datum":60},"y":{"datum":190}}},{"mark":{"type":"line","point":{"filled":true,"size":14}}},{"transform":[{"filter":"datum.d==0"}],"mark":{"type":"text","style":"yr","text":"1998"},"encoding":{"y":{"datum":430}}},{"transform":[{"filter":"datum.w"}],"mark":{"type":"point","style":"arw","filled":false},"encoding":{"color":{"field":"w","type":"nominal","scale":{"domain":["b","g"],"range":["#111111","#a8a8a8"]},"legend":null}}}]}],"resolve":{"scale":{"y":"independent"}}},
{"data":{"name":"y1989"},"encoding":{"x":{"field":"d","type":"quantitative","title":null,"scale":{"domain":[0,60],"nice":false,"padding":0},"axis":{"labelExpr":"timeFormat(datetime(2001,5,1+datum.value),'%-m/%-d')"}}},"layer":[{"mark":"bar","encoding":{"y":{"field":"r","type":"quantitative","title":null,"scale":{"domain":[0,150]},"axis":{"orient":"right","values":[0,30,60,90,120,150]}}}},{"encoding":{"y":{"field":"a","type":"quantitative","title":null,"scale":{"domain":[0,500]},"axis":{"orient":"left"}}},"layer":[{"transform":[{"filter":"datum.d==0"}],"mark":"rule","encoding":{"x2":{"datum":60},"y":{"datum":190}}},{"mark":{"type":"line","point":{"filled":true,"size":14}}},{"transform":[{"filter":"datum.d==0"}],"mark":{"type":"text","style":"yr","text":"1989"},"encoding":{"y":{"datum":430}}},{"transform":[{"filter":"datum.w"}],"mark":{"type":"point","style":"arw","filled":false},"encoding":{"color":{"field":"w","type":"nominal","scale":{"domain":["b","g"],"range":["#111111","#a8a8a8"]},"legend":null}}}]}],"resolve":{"scale":{"y":"independent"}}},
{"data":{"name":"y1999"},"encoding":{"x":{"field":"d","type":"quantitative","title":null,"scale":{"domain":[0,60],"nice":false,"padding":0},"axis":{"labelExpr":"timeFormat(datetime(2001,5,1+datum.value),'%-m/%-d')"}}},"layer":[{"mark":"bar","encoding":{"y":{"field":"r","type":"quantitative","title":null,"scale":{"domain":[0,150]},"axis":{"orient":"right","values":[0,30,60,90,120,150]}}}},{"encoding":{"y":{"field":"a","type":"quantitative","title":null,"scale":{"domain":[0,500]},"axis":{"orient":"left"}}},"layer":[{"transform":[{"filter":"datum.d==0"}],"mark":"rule","encoding":{"x2":{"datum":60},"y":{"datum":190}}},{"mark":{"type":"line","point":{"filled":true,"size":14}}},{"transform":[{"filter":"datum.d==0"}],"mark":{"type":"text","style":"yr","text":"1999"},"encoding":{"y":{"datum":430}}},{"transform":[{"filter":"datum.w"}],"mark":{"type":"point","style":"arw","filled":false},"encoding":{"color":{"field":"w","type":"nominal","scale":{"domain":["b","g"],"range":["#111111","#a8a8a8"]},"legend":null}}}]}],"resolve":{"scale":{"y":"independent"}}},
{"data":{"name":"y1990"},"encoding":{"x":{"field":"d","type":"quantitative","title":null,"scale":{"domain":[0,60],"nice":false,"padding":0},"axis":{"labelExpr":"timeFormat(datetime(2001,5,1+datum.value),'%-m/%-d')"}}},"layer":[{"mark":"bar","encoding":{"y":{"field":"r","type":"quantitative","title":null,"scale":{"domain":[0,150]},"axis":{"orient":"right","values":[0,30,60,90,120,150]}}}},{"encoding":{"y":{"field":"a","type":"quantitative","title":null,"scale":{"domain":[0,500]},"axis":{"orient":"left"}}},"layer":[{"transform":[{"filter":"datum.d==0"}],"mark":"rule","encoding":{"x2":{"datum":60},"y":{"datum":190}}},{"mark":{"type":"line","point":{"filled":true,"size":14}}},{"transform":[{"filter":"datum.d==0"}],"mark":{"type":"text","style":"yr","text":"1990"},"encoding":{"y":{"datum":430}}},{"transform":[{"filter":"datum.w"}],"mark":{"type":"point","style":"arw","filled":false},"encoding":{"color":{"field":"w","type":"nominal","scale":{"domain":["b","g"],"range":["#111111","#a8a8a8"]},"legend":null}}}]}],"resolve":{"scale":{"y":"independent"}}},
{"data":{"name":"y2000"},"encoding":{"x":{"field":"d","type":"quantitative","title":null,"scale":{"domain":[0,60],"nice":false,"padding":0},"axis":{"labelExpr":"timeFormat(datetime(2001,5,15+datum.value),'%-m/%-d')"}}},"layer":[{"mark":"bar","encoding":{"y":{"field":"r","type":"quantitative","title":null,"scale":{"domain":[0,150]},"axis":{"orient":"right","values":[0,30,60,90,120,150]}}}},{"encoding":{"y":{"field":"a","type":"quantitative","title":null,"scale":{"domain":[0,500]},"axis":{"orient":"left"}}},"layer":[{"transform":[{"filter":"datum.d==0"}],"mark":"rule","encoding":{"x2":{"datum":60},"y":{"datum":190}}},{"mark":{"type":"line","point":{"filled":true,"size":14}}},{"transform":[{"filter":"datum.d==0"}],"mark":{"type":"text","style":"yr","text":"2000"},"encoding":{"y":{"datum":430}}},{"transform":[{"filter":"datum.w"}],"mark":{"type":"point","style":"arw","filled":false},"encoding":{"color":{"field":"w","type":"nominal","scale":{"domain":["b","g"],"range":["#111111","#a8a8a8"]},"legend":null}}}]}],"resolve":{"scale":{"y":"independent"}}},
{"data":{"name":"y1991"},"encoding":{"x":{"field":"d","type":"quantitative","title":null,"scale":{"domain":[0,60],"nice":false,"padding":0},"axis":{"labelExpr":"timeFormat(datetime(2001,5,1+datum.value),'%-m/%-d')"}}},"layer":[{"mark":"bar","encoding":{"y":{"field":"r","type":"quantitative","title":null,"scale":{"domain":[0,150]},"axis":{"orient":"right","values":[0,30,60,90,120,150]}}}},{"encoding":{"y":{"field":"a","type":"quantitative","title":null,"scale":{"domain":[0,500]},"axis":{"orient":"left"}}},"layer":[{"transform":[{"filter":"datum.d==0"}],"mark":"rule","encoding":{"x2":{"datum":60},"y":{"datum":190}}},{"mark":{"type":"line","point":{"filled":true,"size":14}}},{"transform":[{"filter":"datum.d==0"}],"mark":{"type":"text","style":"yr","text":"1991"},"encoding":{"y":{"datum":430}}},{"transform":[{"filter":"datum.w"}],"mark":{"type":"point","style":"arw","filled":false},"encoding":{"color":{"field":"w","type":"nominal","scale":{"domain":["b","g"],"range":["#111111","#a8a8a8"]},"legend":null}}}]}],"resolve":{"scale":{"y":"independent"}}},
{"data":{"name":"y2001"},"encoding":{"x":{"field":"d","type":"quantitative","title":null,"scale":{"domain":[0,60],"nice":false,"padding":0},"axis":{"labelExpr":"timeFormat(datetime(2001,5,1+datum.value),'%-m/%-d')"}}},"layer":[{"mark":"bar","encoding":{"y":{"field":"r","type":"quantitative","title":null,"scale":{"domain":[0,150]},"axis":{"orient":"right","values":[0,30,60,90,120,150]}}}},{"encoding":{"y":{"field":"a","type":"quantitative","title":null,"scale":{"domain":[0,500]},"axis":{"orient":"left"}}},"layer":[{"transform":[{"filter":"datum.d==0"}],"mark":"rule","encoding":{"x2":{"datum":60},"y":{"datum":190}}},{"mark":{"type":"line","point":{"filled":true,"size":14}}},{"transform":[{"filter":"datum.d==0"}],"mark":{"type":"text","style":"yr","text":"2001"},"encoding":{"y":{"datum":430}}},{"transform":[{"filter":"datum.w"}],"mark":{"type":"point","style":"arw","filled":false},"encoding":{"color":{"field":"w","type":"nominal","scale":{"domain":["b","g"],"range":["#111111","#a8a8a8"]},"legend":null}}}]}],"resolve":{"scale":{"y":"independent"}}},
{"data":{"name":"y1992"},"encoding":{"x":{"field":"d","type":"quantitative","title":null,"scale":{"domain":[0,60],"nice":false,"padding":0},"axis":{"labelExpr":"timeFormat(datetime(2001,6,1+datum.value),'%-m/%-d')"}}},"layer":[{"mark":"bar","encoding":{"y":{"field":"r","type":"quantitative","title":null,"scale":{"domain":[0,150]},"axis":{"orient":"right","values":[0,30,60,90,120,150]}}}},{"encoding":{"y":{"field":"a","type":"quantitative","title":null,"scale":{"domain":[100,500]},"axis":{"orient":"left"}}},"layer":[{"transform":[{"filter":"datum.d==0"}],"mark":"rule","encoding":{"x2":{"datum":60},"y":{"datum":190}}},{"mark":{"type":"line","point":{"filled":true,"size":14}}},{"transform":[{"filter":"datum.d==0"}],"mark":{"type":"text","style":"yr","text":"1992"},"encoding":{"y":{"datum":440}}},{"transform":[{"filter":"datum.w"}],"mark":{"type":"point","style":"arw","filled":false},"encoding":{"color":{"field":"w","type":"nominal","scale":{"domain":["b","g"],"range":["#111111","#a8a8a8"]},"legend":null}}}]}],"resolve":{"scale":{"y":"independent"}}},
{"data":{"name":"y2002"},"encoding":{"x":{"field":"d","type":"quantitative","title":null,"scale":{"domain":[0,60],"nice":false,"padding":0},"axis":{"labelExpr":"timeFormat(datetime(2001,5,1+datum.value),'%-m/%-d')"}}},"layer":[{"mark":"bar","encoding":{"y":{"field":"r","type":"quantitative","title":null,"scale":{"domain":[0,150]},"axis":{"orient":"right","values":[0,30,60,90,120,150]}}}},{"encoding":{"y":{"field":"a","type":"quantitative","title":null,"scale":{"domain":[0,500]},"axis":{"orient":"left"}}},"layer":[{"transform":[{"filter":"datum.d==0"}],"mark":"rule","encoding":{"x2":{"datum":60},"y":{"datum":190}}},{"mark":{"type":"line","point":{"filled":true,"size":14}}},{"transform":[{"filter":"datum.d==0"}],"mark":{"type":"text","style":"yr","text":"2002"},"encoding":{"y":{"datum":430}}},{"transform":[{"filter":"datum.w"}],"mark":{"type":"point","style":"arw","filled":false},"encoding":{"color":{"field":"w","type":"nominal","scale":{"domain":["b","g"],"range":["#111111","#a8a8a8"]},"legend":null}}}]}],"resolve":{"scale":{"y":"independent"}}},
{"data":{"name":"y1993"},"encoding":{"x":{"field":"d","type":"quantitative","title":null,"scale":{"domain":[0,60],"nice":false,"padding":0},"axis":{"labelExpr":"timeFormat(datetime(2001,5,1+datum.value),'%-m/%-d')"}}},"layer":[{"mark":"bar","encoding":{"y":{"field":"r","type":"quantitative","title":null,"scale":{"domain":[0,150]},"axis":{"orient":"right","values":[0,30,60,90,120,150]}}}},{"encoding":{"y":{"field":"a","type":"quantitative","title":null,"scale":{"domain":[0,500]},"axis":{"orient":"left"}}},"layer":[{"transform":[{"filter":"datum.d==0"}],"mark":"rule","encoding":{"x2":{"datum":60},"y":{"datum":190}}},{"mark":{"type":"line","point":{"filled":true,"size":14}}},{"transform":[{"filter":"datum.d==0"}],"mark":{"type":"text","style":"yr","text":"1993"},"encoding":{"y":{"datum":430}}},{"transform":[{"filter":"datum.w"}],"mark":{"type":"point","style":"arw","filled":false},"encoding":{"color":{"field":"w","type":"nominal","scale":{"domain":["b","g"],"range":["#111111","#a8a8a8"]},"legend":null}}}]}],"resolve":{"scale":{"y":"independent"}}},
{"data":{"name":"y2003"},"encoding":{"x":{"field":"d","type":"quantitative","title":null,"scale":{"domain":[0,60],"nice":false,"padding":0},"axis":{"labelExpr":"timeFormat(datetime(2001,4,10+datum.value),'%-m/%-d')"}}},"layer":[{"mark":"bar","encoding":{"y":{"field":"r","type":"quantitative","title":null,"scale":{"domain":[0,150]},"axis":{"orient":"right","values":[0,30,60,90,120,150]}}}},{"encoding":{"y":{"field":"a","type":"quantitative","title":null,"scale":{"domain":[0,500]},"axis":{"orient":"left"}}},"layer":[{"transform":[{"filter":"datum.d==0"}],"mark":"rule","encoding":{"x2":{"datum":60},"y":{"datum":190}}},{"mark":{"type":"line","point":{"filled":true,"size":14}}},{"transform":[{"filter":"datum.d==0"}],"mark":{"type":"text","style":"yr","text":"2003"},"encoding":{"y":{"datum":430}}},{"transform":[{"filter":"datum.w"}],"mark":{"type":"point","style":"arw","filled":false},"encoding":{"color":{"field":"w","type":"nominal","scale":{"domain":["b","g"],"range":["#111111","#a8a8a8"]},"legend":null}}}]}],"resolve":{"scale":{"y":"independent"}}},
{"data":{"name":"y1994"},"encoding":{"x":{"field":"d","type":"quantitative","title":null,"scale":{"domain":[0,60],"nice":false,"padding":0},"axis":{"labelExpr":"timeFormat(datetime(2001,5,1+datum.value),'%-m/%-d')"}}},"layer":[{"mark":"bar","encoding":{"y":{"field":"r","type":"quantitative","title":null,"scale":{"domain":[0,150]},"axis":{"orient":"right","values":[0,30,60,90,120,150]}}}},{"encoding":{"y":{"field":"a","type":"quantitative","title":null,"scale":{"domain":[0,500]},"axis":{"orient":"left"}}},"layer":[{"transform":[{"filter":"datum.d==0"}],"mark":"rule","encoding":{"x2":{"datum":60},"y":{"datum":190}}},{"mark":{"type":"line","point":{"filled":true,"size":14}}},{"transform":[{"filter":"datum.d==0"}],"mark":{"type":"text","style":"yr","text":"1994"},"encoding":{"y":{"datum":430}}},{"transform":[{"filter":"datum.w"}],"mark":{"type":"point","style":"arw","filled":false},"encoding":{"color":{"field":"w","type":"nominal","scale":{"domain":["b","g"],"range":["#111111","#a8a8a8"]},"legend":null}}}]}],"resolve":{"scale":{"y":"independent"}}},
{"data":{"name":"y2004"},"encoding":{"x":{"field":"d","type":"quantitative","title":null,"scale":{"domain":[0,60],"nice":false,"padding":0},"axis":{"labelExpr":"timeFormat(datetime(2001,5,1+datum.value),'%-m/%-d')"}}},"layer":[{"mark":"bar","encoding":{"y":{"field":"r","type":"quantitative","title":null,"scale":{"domain":[0,150]},"axis":{"orient":"right","values":[0,30,60,90,120,150]}}}},{"encoding":{"y":{"field":"a","type":"quantitative","title":null,"scale":{"domain":[0,500]},"axis":{"orient":"left"}}},"layer":[{"transform":[{"filter":"datum.d==0"}],"mark":"rule","encoding":{"x2":{"datum":60},"y":{"datum":190}}},{"mark":{"type":"line","point":{"filled":true,"size":14}}},{"transform":[{"filter":"datum.d==0"}],"mark":{"type":"text","style":"yr","text":"2004"},"encoding":{"y":{"datum":430}}},{"transform":[{"filter":"datum.w"}],"mark":{"type":"point","style":"arw","filled":false},"encoding":{"color":{"field":"w","type":"nominal","scale":{"domain":["b","g"],"range":["#111111","#a8a8a8"]},"legend":null}}}]}],"resolve":{"scale":{"y":"independent"}}}
]}],
"config":{
"view":{"continuousWidth":304,"continuousHeight":85,"stroke":"#9a9a9a","strokeWidth":1},
"mark":{"color":"#111111"},
"point":{"opacity":1},
"line":{"strokeWidth":1.2,"color":"#111111"},
"bar":{"fill":"#8c8c8c","stroke":"#1a1a1a","strokeWidth":0.6,"continuousBandSize":4},
"rule":{"stroke":"#333333","strokeDash":[6,4],"strokeWidth":1.3},
"style":{"yr":{"align":"left","dx":5,"baseline":"middle","fontSize":14,"fontWeight":"bold","font":"Liberation Sans","color":"#111111"},"arw":{"shape":"M0,-2.6L0,-0.5M-0.42,-1.15L0,-0.5L0.42,-1.15","size":196,"strokeWidth":1.2,"opacity":1}},
"axis":{"grid":false,"domainColor":"#111111","tickColor":"#111111","tickSize":4,"labelFont":"Liberation Sans","labelFontSize":11,"labelFontWeight":"bold","labelColor":"#222222","labelPadding":2,"labelOverlap":false,"labelFlush":false},
"axisX":{"tickCount":13,"labelFontSize":11,"tickSize":3,"labelPadding":1},
"axisLeft":{"tickCount":5}
}
}
